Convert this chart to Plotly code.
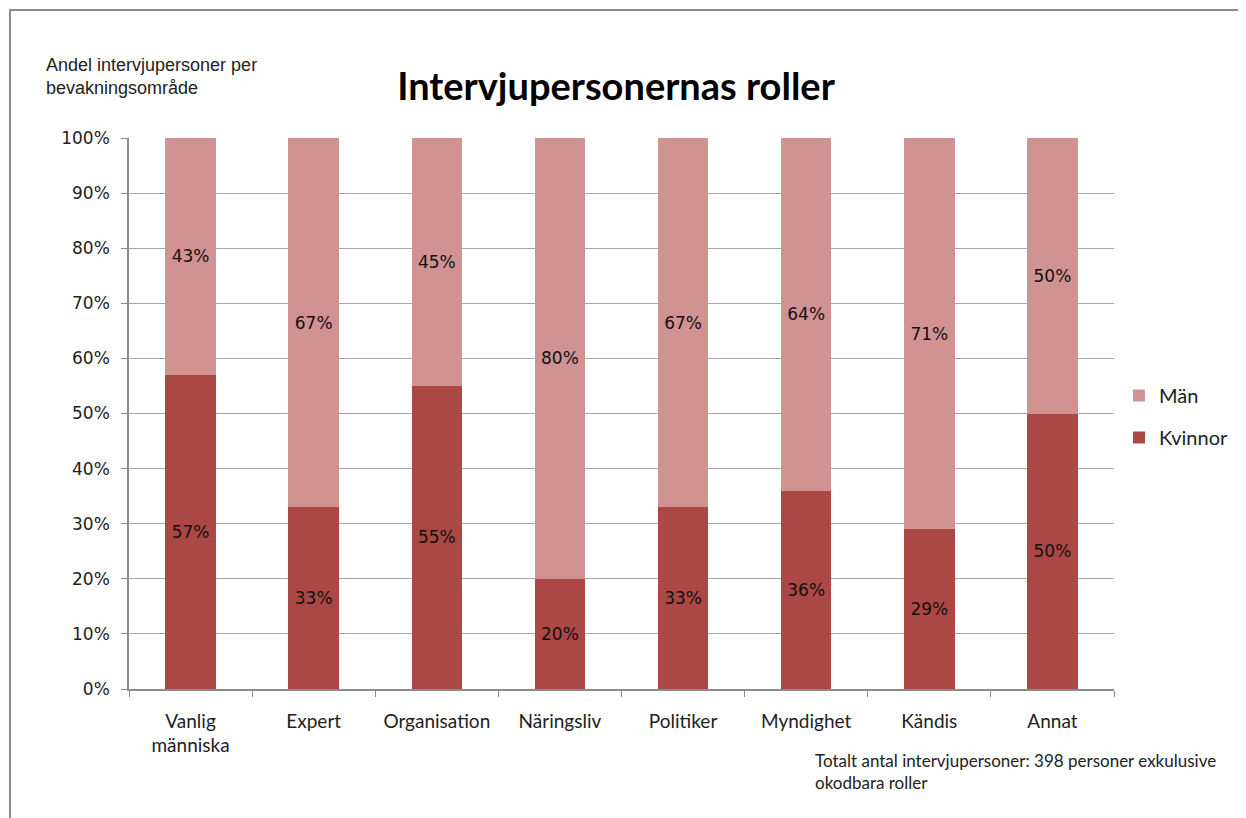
import plotly.graph_objects as go

categories = ["Vanlig<br>människa", "Expert", "Organisation", "Näringsliv",
              "Politiker", "Myndighet", "Kändis", "Annat"]
kvinnor = [57, 33, 55, 20, 33, 36, 29, 50]
man = [43, 67, 45, 80, 67, 64, 71, 50]
y_ticks = [0, 10, 20, 30, 40, 50, 60, 70, 80, 90, 100]
y_tick_labels = [f"{v}%" for v in y_ticks]

C_KV = "#AB4744"
C_MAN = "#D19292"

# page offset (body margin) compensation
OFF = 8
W, H = 1246 - OFF, 818 - OFF
# plot area in page pixel coordinates
L, R, T, B = 129, 1114, 138, 689
PW, PH = R - L, B - T

def px(x):
    return (x - L) / PW

def py(y):
    return (B - y) / PH

label_font = dict(family="DejaVu Sans", size=17, color="#111111")

fig = go.Figure()
fig.add_trace(go.Bar(
    x=categories, y=kvinnor, name="Kvinnor", marker_color=C_KV,
    marker_line_width=0, width=0.41, legendgroup="k", legendrank=2,
    text=[f"{v}%" for v in kvinnor], textposition="inside",
    insidetextanchor="middle", textfont=label_font, hoverinfo="skip",
))
fig.add_trace(go.Bar(
    x=categories, y=man, name="Män", marker_color=C_MAN,
    marker_line_width=0, width=0.41, legendgroup="m", legendrank=1,
    text=[f"{v}%" for v in man], textposition="inside",
    insidetextanchor="middle", textfont=label_font, hoverinfo="skip",
))

fig.update_layout(
    width=W, height=H,
    margin=dict(l=L - OFF, r=W - (R - OFF), t=T - OFF, b=H - (B - OFF), pad=0),
    paper_bgcolor="white", plot_bgcolor="white",
    barmode="stack",
    uniformtext=dict(mode="show", minsize=10),
    title=dict(
        text="<b>Intervjupersonernas roller</b>",
        x=px(616), xref="paper", xanchor="center",
        y=1 - (87 - OFF) / H, yref="container", yanchor="middle",
        font=dict(family="Lato", size=38, color="#000000"),
    ),
    legend=dict(
        x=px(1119), y=py(376), xanchor="left", yanchor="top",
        traceorder="grouped", tracegroupgap=13,
        font=dict(family="Lato", size=20, color="#222222"),
        bgcolor="rgba(0,0,0,0)",
    ),
    font=dict(family="Lato", color="#222222"),
)

fig.update_yaxes(
    range=[0, 100], tickvals=y_ticks, ticktext=y_tick_labels,
    showgrid=True, gridcolor="#A6A6A6", gridwidth=1,
    showline=True, linecolor="#8C8C8C", linewidth=1.5,
    ticks="outside", ticklen=6, tickcolor="#8C8C8C",
    tickfont=dict(family="DejaVu Sans", size=17, color="#222222"),
    ticklabelstandoff=8, zeroline=False, fixedrange=True,
)
fig.update_xaxes(
    showline=True, linecolor="#8C8C8C", linewidth=1.5,
    ticks="outside", ticklen=6, tickcolor="#8C8C8C", tickson="boundaries",
    tickfont=dict(family="Lato", size=19, color="#222222"),
    ticklabelstandoff=14, fixedrange=True,
)

fig.add_annotation(
    text="Andel intervjupersoner per<br>bevakningsområde",
    xref="paper", yref="paper", x=px(44), y=py(53),
    xanchor="left", yanchor="top", align="left", showarrow=False,
    font=dict(family="Liberation Sans", size=18, color="#222222"),
)
fig.add_annotation(
    text="Totalt antal intervjupersoner: 398 personer exkulusive<br>okodbara roller",
    xref="paper", yref="paper", x=px(813), y=py(748),
    xanchor="left", yanchor="top", align="left", showarrow=False,
    font=dict(family="Lato", size=17, color="#222222"),
)

fig.add_shape(
    type="rect", xref="paper", yref="paper",
    x0=px(10), x1=px(1400), y0=py(1000), y1=py(10),
    line=dict(color="#8C8C8C", width=2), fillcolor="rgba(0,0,0,0)",
    layer="below",
)

fig.write_html("out.html")
